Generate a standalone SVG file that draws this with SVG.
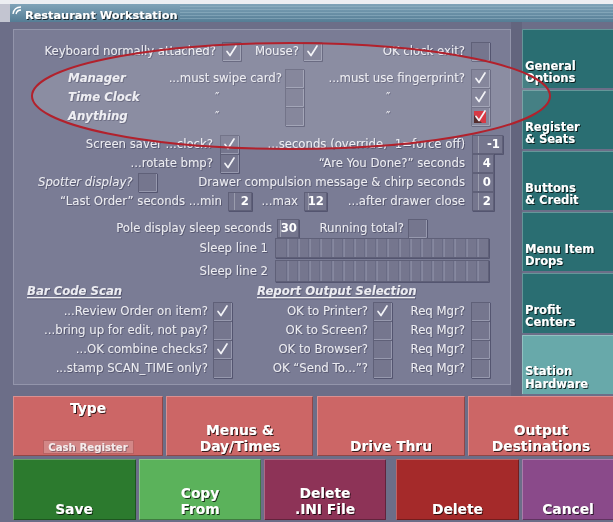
<svg xmlns="http://www.w3.org/2000/svg" xmlns:xlink="http://www.w3.org/1999/xlink" width="613" height="522" viewBox="0 0 613 522">
<style>
.t{font-family:"DejaVu Sans",Verdana,sans-serif;font-size:11.7px;fill:#ececf2}
.e{text-anchor:end}
.bi{font-weight:bold;font-style:italic}
.it{font-style:italic}
.num{font-family:"DejaVu Sans",Verdana,sans-serif;font-size:11.7px;font-weight:bold;fill:#fff;text-anchor:end}
.btn{font-family:"DejaVu Sans",Verdana,sans-serif;font-size:13.8px;font-weight:bold;fill:#fff;text-anchor:middle}
.tab{font-family:"DejaVu Sans",Verdana,sans-serif;font-size:11.5px;font-weight:bold;fill:#fff}
.nb{fill:#74768e;stroke:#5e6078}
.hl{fill:none;stroke:#ffffff;stroke-opacity:.28}
.gl{fill:none;stroke:#a3a5b9;stroke-opacity:.8}
.gd{fill:none;stroke:#5e6078;stroke-opacity:.8}
.dk{fill:none;stroke:#000;stroke-opacity:.3}
</style>
<defs>
<filter id="sh" x="-10%" y="-20%" width="130%" height="160%"><feDropShadow dx="1" dy="1" stdDeviation="0.6" flood-color="#000" flood-opacity="0.75"/></filter>
<filter id="sh2" x="-10%" y="-20%" width="130%" height="160%"><feDropShadow dx="0.8" dy="0.8" stdDeviation="0.4" flood-color="#2a2b3c" flood-opacity="0.55"/></filter>
<linearGradient id="tg" x1="0" y1="0" x2="0" y2="1"><stop offset="0" stop-color="#7fa3b8"/><stop offset="1" stop-color="#557d95"/></linearGradient>
<pattern id="stripe" width="4" height="3" patternUnits="userSpaceOnUse"><rect width="4" height="1" fill="#9dbccc" fill-opacity="0.45"/></pattern>
<g id="cb"><rect x="0.5" y="0.5" width="18" height="18" fill="#74768e" stroke="#5e6078"/><path d="M1 18.5H18.5V1" fill="none" stroke="#9799ae"/></g>
<path id="ck" d="M5 9.5L8 13.5L14 4" fill="none" stroke="#f2f2f6" stroke-width="1.7" stroke-linecap="round" stroke-linejoin="round"/>
</defs>

<!-- window background -->
<rect width="613" height="522" fill="#6c6e88"/>
<rect width="613" height="4" fill="#eceef2"/>
<rect x="0" y="4" width="10" height="18" fill="#c3c5d1"/>

<g id="title-bar">
<rect x="10" y="4" width="603" height="18" fill="url(#tg)"/>
<rect x="180" y="5" width="433" height="16" fill="url(#stripe)"/>
<path d="M13 14 Q14 7 21 7 M16 14 Q17 10 21 10" fill="none" stroke="#fff" stroke-width="1.3"/>
<text x="25" y="19" class="tab" style="font-size:11.3px" filter="url(#sh)">Restaurant Workstation</text>
</g>

<g id="panel">
<rect x="13.5" y="29.5" width="497" height="355" fill="#7a7c95" stroke="#9395ab"/>
<rect x="511" y="22" width="11" height="374" fill="#63657e"/>
</g>

<g id="controls" filter="url(#sh2)">
<g id="row-keyboard">
<text class="t e" x="216" y="55">Keyboard normally attached?</text>
<use xlink:href="#cb" x="222" y="42"/><use xlink:href="#ck" x="222" y="42"/>
<text class="t e" x="299" y="55">Mouse?</text>
<use xlink:href="#cb" x="303" y="42"/><use xlink:href="#ck" x="303" y="42"/>
<text class="t e" x="465" y="55">OK clock exit?</text>
<use xlink:href="#cb" x="471" y="42"/>
</g>
<g id="row-manager">
<text class="t bi" x="68" y="82">Manager</text>
<text class="t e" x="282" y="82">...must swipe card?</text>
<use xlink:href="#cb" x="285" y="69"/>
<text class="t e" x="465" y="82">...must use fingerprint?</text>
<use xlink:href="#cb" x="471" y="69"/><use xlink:href="#ck" x="471" y="69"/>
</g>
<g id="row-timeclock">
<text class="t" x="215" y="101">″</text>
<text class="t bi" x="68" y="101">Time Clock</text>
<use xlink:href="#cb" x="285" y="88"/>
<text class="t" x="386" y="101">″</text>
<use xlink:href="#cb" x="471" y="88"/><use xlink:href="#ck" x="471" y="88"/>
</g>
<g id="row-anything">
<text class="t bi" x="68" y="120">Anything</text>
<text class="t" x="215" y="120">″</text>
<use xlink:href="#cb" x="285" y="107"/>
<text class="t" x="386" y="120">″</text>
<use xlink:href="#cb" x="471" y="107"/>
<rect x="474" y="111" width="12" height="12" fill="#d21f2a"/>
<path d="M474 115 L474 123 L482 123 Z" fill="#3a0a10"/>
<use xlink:href="#ck" x="471" y="107"/>
</g>
<g id="row-screensaver">
<text class="t e" x="213" y="148">Screen saver ...clock?</text>
<use xlink:href="#cb" x="220" y="135"/><use xlink:href="#ck" x="220" y="135"/>
<text class="t e" x="465" y="148">...seconds (override, -1=force off)</text>
<rect class="nb" x="472.5" y="135.5" width="30" height="18"/><path class="hl" d="M478.5 136V153"/>
<text class="num" x="500" y="148">-1</text>
</g>
<g id="row-rotate">
<text class="t e" x="213" y="167">...rotate bmp?</text>
<use xlink:href="#cb" x="220" y="154"/><use xlink:href="#ck" x="220" y="154"/>
<text class="t e" x="465" y="167">“Are You Done?” seconds</text>
<rect class="nb" x="472.5" y="154.5" width="21" height="18"/><path class="hl" d="M478.5 155V172"/>
<text class="num" x="491" y="167">4</text>
</g>
<g id="row-spotter">
<text class="t it" x="38" y="186">Spotter display?</text>
<use xlink:href="#cb" x="138" y="173"/>
<text class="t e" x="465" y="186">Drawer compulsion message &amp; chirp seconds</text>
<rect class="nb" x="472.5" y="173.5" width="21" height="18"/><path class="hl" d="M478.5 174V191"/>
<text class="num" x="491" y="186">0</text>
</g>
<g id="row-lastorder">
<text class="t e" x="222" y="205">“Last Order” seconds ...min</text>
<rect class="nb" x="228.5" y="192.5" width="23" height="18"/><path class="hl" d="M234.5 193V210"/>
<text class="num" x="249" y="205">2</text>
<text class="t e" x="298" y="205">...max</text>
<rect class="nb" x="304.5" y="192.5" width="22" height="18"/><path class="hl" d="M308.5 193V210"/>
<text class="num" x="324" y="205">12</text>
<text class="t e" x="465" y="205">...after drawer close</text>
<rect class="nb" x="472.5" y="192.5" width="21" height="18"/><path class="hl" d="M478.5 193V210"/>
<text class="num" x="491" y="205">2</text>
</g>
<g id="row-pole">
<text class="t e" x="272" y="232">Pole display sleep seconds</text>
<rect class="nb" x="277.5" y="219.5" width="21" height="18"/><path class="hl" d="M280.5 220V237"/>
<text class="num" x="297" y="232">30</text>
<text class="t e" x="404" y="232">Running total?</text>
<use xlink:href="#cb" x="408" y="219"/>
</g>
<g id="row-sleep">
<text class="t e" x="268" y="251.5">Sleep line 1</text>
<rect class="nb" x="275.5" y="238.5" width="213" height="19"/>
<path class="gd" d="M287 239V257M298 239V257M309 239V257M320 239V257M332 239V257M343 239V257M354 239V257M365 239V257M376 239V257M387 239V257M399 239V257M410 239V257M421 239V257M432 239V257M443 239V257M454 239V257M466 239V257M477 239V257"/>
<path class="gl" d="M288 239V257M299 239V257M310 239V257M321 239V257M333 239V257M344 239V257M355 239V257M366 239V257M377 239V257M388 239V257M400 239V257M411 239V257M422 239V257M433 239V257M444 239V257M455 239V257M467 239V257M478 239V257"/>
<text class="t e" x="268" y="275">Sleep line 2</text>
<rect class="nb" x="275.5" y="260.5" width="213" height="21"/>
<path class="gd" d="M287 261V281M298 261V281M309 261V281M320 261V281M332 261V281M343 261V281M354 261V281M365 261V281M376 261V281M387 261V281M399 261V281M410 261V281M421 261V281M432 261V281M443 261V281M454 261V281M466 261V281M477 261V281"/>
<path class="gl" d="M288 261V281M299 261V281M310 261V281M321 261V281M333 261V281M344 261V281M355 261V281M366 261V281M377 261V281M388 261V281M400 261V281M411 261V281M422 261V281M433 261V281M444 261V281M455 261V281M467 261V281M478 261V281"/>
</g>
<g id="barcode-scan">
<text class="t bi" x="27" y="295">Bar Code Scan</text>
<rect x="27" y="297" width="94" height="1.2" fill="#ececf2"/>
<text class="t e" x="208" y="315">...Review Order on item?</text>
<use xlink:href="#cb" x="213" y="302"/><use xlink:href="#ck" x="213" y="302"/>
<text class="t e" x="208" y="334">...bring up for edit, not pay?</text>
<use xlink:href="#cb" x="213" y="321"/>
<text class="t e" x="208" y="353">...OK combine checks?</text>
<use xlink:href="#cb" x="213" y="340"/><use xlink:href="#ck" x="213" y="340"/>
<text class="t e" x="208" y="372">...stamp SCAN_TIME only?</text>
<use xlink:href="#cb" x="213" y="359"/>
</g>
<g id="report-output">
<text class="t bi" x="257" y="295">Report Output Selection</text>
<rect x="257" y="297" width="158" height="1.2" fill="#ececf2"/>
<text class="t e" x="368" y="315">OK to Printer?</text>
<use xlink:href="#cb" x="373" y="302"/><use xlink:href="#ck" x="373" y="302"/>
<text class="t e" x="368" y="334">OK to Screen?</text>
<use xlink:href="#cb" x="373" y="321"/>
<text class="t e" x="368" y="353">OK to Browser?</text>
<use xlink:href="#cb" x="373" y="340"/>
<text class="t e" x="368" y="372">OK “Send To...”?</text>
<use xlink:href="#cb" x="373" y="359"/>
<text class="t e" x="465" y="315">Req Mgr?</text>
<use xlink:href="#cb" x="471" y="302"/>
<text class="t e" x="465" y="334">Req Mgr?</text>
<use xlink:href="#cb" x="471" y="321"/>
<text class="t e" x="465" y="353">Req Mgr?</text>
<use xlink:href="#cb" x="471" y="340"/>
<text class="t e" x="465" y="372">Req Mgr?</text>
<use xlink:href="#cb" x="471" y="359"/>
</g>
</g>

<g id="tabs">
<g id="tab-general"><rect x="522" y="29" width="91" height="59" fill="#2a6e72"/><path class="hl" d="M522.5 88V29.5H613" stroke="#6cc4c4" stroke-opacity="0.8"/>
<text class="tab" x="525" y="69.5" filter="url(#sh)">General</text><text class="tab" x="525" y="82" filter="url(#sh)">Options</text></g>
<g id="tab-register"><rect x="522" y="90" width="91" height="59" fill="#2a6e72"/><path class="hl" d="M522.5 149V90.5H613" stroke="#6cc4c4" stroke-opacity="0.8"/>
<text class="tab" x="525" y="130.5" filter="url(#sh)">Register</text><text class="tab" x="525" y="143" filter="url(#sh)">&amp; Seats</text></g>
<g id="tab-buttons"><rect x="522" y="151" width="91" height="59" fill="#2a6e72"/><path class="hl" d="M522.5 210V151.5H613" stroke="#6cc4c4" stroke-opacity="0.8"/>
<text class="tab" x="525" y="191.5" filter="url(#sh)">Buttons</text><text class="tab" x="525" y="204" filter="url(#sh)">&amp; Credit</text></g>
<g id="tab-menuitem"><rect x="522" y="212" width="91" height="59" fill="#2a6e72"/><path class="hl" d="M522.5 271V212.5H613" stroke="#6cc4c4" stroke-opacity="0.8"/>
<text class="tab" x="525" y="252.5" filter="url(#sh)">Menu Item</text><text class="tab" x="525" y="265" filter="url(#sh)">Drops</text></g>
<g id="tab-profit"><rect x="522" y="273" width="91" height="60" fill="#2a6e72"/><path class="hl" d="M522.5 333V273.5H613" stroke="#6cc4c4" stroke-opacity="0.8"/>
<text class="tab" x="525" y="313.5" filter="url(#sh)">Profit</text><text class="tab" x="525" y="326" filter="url(#sh)">Centers</text></g>
<g id="tab-station"><rect x="522" y="335" width="91" height="59" fill="#68a9aa"/><path class="hl" d="M522.5 394V335.5H613" stroke="#9ad8d8" stroke-opacity="0.9"/>
<text class="tab" x="525" y="375" filter="url(#sh)">Station</text><text class="tab" x="525" y="387.5" filter="url(#sh)">Hardware</text></g>
</g>

<g id="buttons">
<g id="btn-type"><rect x="13" y="396" width="150" height="60" fill="#cc6666"/><path class="dk" d="M13 455.5H162.5V396"/><path class="hl" d="M13.5 456V396.5H163"/>
<text class="btn" x="88" y="413" filter="url(#sh)">Type</text>
<rect x="43.5" y="440.5" width="90" height="13" fill="#d38787" stroke="#b86262"/>
<text x="88" y="451" text-anchor="middle" style="font-family:'DejaVu Sans',Verdana,sans-serif;font-size:10.2px;font-weight:bold;fill:#f5ecec" filter="url(#sh2)">Cash Register</text></g>
<g id="btn-menus"><rect x="166" y="396" width="147" height="60" fill="#cc6666"/><path class="dk" d="M166 455.5H312.5V396"/><path class="hl" d="M166.5 456V396.5H313"/>
<text class="btn" x="240" y="435" filter="url(#sh)">Menus &amp;</text><text class="btn" x="240" y="450.5" filter="url(#sh)">Day/Times</text></g>
<g id="btn-drive"><rect x="317" y="396" width="148" height="60" fill="#cc6666"/><path class="dk" d="M317 455.5H464.5V396"/><path class="hl" d="M317.5 456V396.5H465"/>
<text class="btn" x="391" y="451" filter="url(#sh)">Drive Thru</text></g>
<g id="btn-output"><rect x="468" y="396" width="145" height="60" fill="#cc6666"/><path class="dk" d="M468 455.5H613"/><path class="hl" d="M468.5 456V396.5H613"/>
<text class="btn" x="541" y="434.5" filter="url(#sh)">Output</text><text class="btn" x="541" y="450.5" filter="url(#sh)">Destinations</text></g>
<g id="btn-save"><rect x="13" y="459" width="123" height="61" fill="#2c7a2e"/><path class="dk" d="M13 519.5H135.5V459"/><path class="hl" d="M13.5 520V459.5H136"/>
<text class="btn" x="74" y="514" filter="url(#sh)">Save</text></g>
<g id="btn-copy"><rect x="139" y="459" width="122" height="61" fill="#5bb25b"/><path class="dk" d="M139 519.5H260.5V459"/><path class="hl" d="M139.5 520V459.5H261"/>
<text class="btn" x="200" y="498" filter="url(#sh)">Copy</text><text class="btn" x="200" y="514" filter="url(#sh)">From</text></g>
<g id="btn-delete-ini"><rect x="264" y="459" width="122" height="61" fill="#8d3357"/><path class="dk" d="M264 519.5H385.5V459"/><path class="hl" d="M264.5 520V459.5H386"/>
<text class="btn" x="325" y="498" filter="url(#sh)">Delete</text><text class="btn" x="325" y="514" filter="url(#sh)">.INI File</text></g>
<g id="btn-delete"><rect x="396" y="459" width="123" height="61" fill="#a52a2a"/><path class="dk" d="M396 519.5H518.5V459"/><path class="hl" d="M396.5 520V459.5H519"/>
<text class="btn" x="457.5" y="514" filter="url(#sh)">Delete</text></g>
<g id="btn-cancel"><rect x="522" y="459" width="91" height="61" fill="#8a4a8a"/><path class="dk" d="M522 519.5H613"/><path class="hl" d="M522.5 520V459.5H613"/>
<text class="btn" x="568" y="514" filter="url(#sh)">Cancel</text></g>
</g>

<g id="highlight-ellipse">
<ellipse cx="291" cy="96" rx="259" ry="53" fill="#ffffff" fill-opacity="0.13" stroke="#b2212c" stroke-width="2"/>
</g>
</svg>
